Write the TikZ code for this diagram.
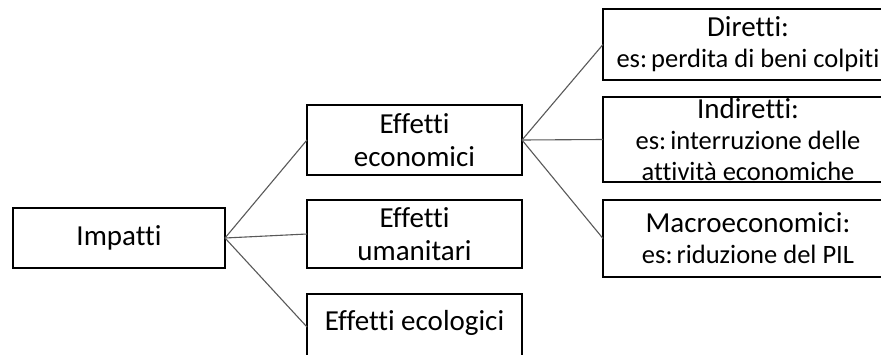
\documentclass[tikz,border=0pt]{standalone}
\usepackage{fontspec}
\setmainfont[Ligatures={NoCommon,NoContextual}]{Carlito}
\newcommand{\esline}[1]{{\fontsize{26.5}{30}\selectfont es:\hspace{4pt}#1}}
\tikzset{
  box/.style={draw, line width=1.6pt, align=center, fill=white,
    font=\fontsize{29}{33}\selectfont},
  link/.style={draw=black!65, line width=1.1pt}
}
\begin{document}
\begin{tikzpicture}[x=1pt, y=1pt, yscale=-1, inner sep=0pt, outer sep=0pt]
\clip (0,0) rectangle (881,354);
\fill[white] (0,0) rectangle (881,354);

\node[box, minimum width=212pt, minimum height=60pt] (impatti) at (119,238) {Impatti};

\node[box, minimum width=215pt, minimum height=70pt] (economici) at (414.5,140) {Effetti\\economici};
\node[box, minimum width=215pt, minimum height=68pt] (umanitari) at (414.5,234) {Effetti\\umanitari};
\node[box, minimum width=215pt, minimum height=66pt, text depth=14pt] (ecologici) at (414.5,327) {Effetti ecologici};

\node[box, minimum width=290pt, minimum height=71pt] (diretti) at (748,44.5)
  {Diretti:\\[-2pt]\esline{perdita di beni colpiti}};
\node[box, minimum width=290pt, minimum height=85pt] (indiretti) at (748,139.5)
  {Indiretti:\\[-2pt]\esline{interruzione delle}\\[-2pt]{\fontsize{26.5}{30}\selectfont attività economiche}};
\node[box, minimum width=290pt, minimum height=77pt] (macro) at (748,238.5)
  {Macroeconomici:\\[-2pt]\esline{riduzione del PIL}};

\draw[link] (impatti.east) -- (economici.west);
\draw[link] (impatti.east) -- (umanitari.west);
\draw[link] (impatti.east) -- (ecologici.west);
\draw[link] (economici.east) -- (diretti.west);
\draw[link] (economici.east) -- (indiretti.west);
\draw[link] (economici.east) -- (macro.west);
\end{tikzpicture}
\end{document}
